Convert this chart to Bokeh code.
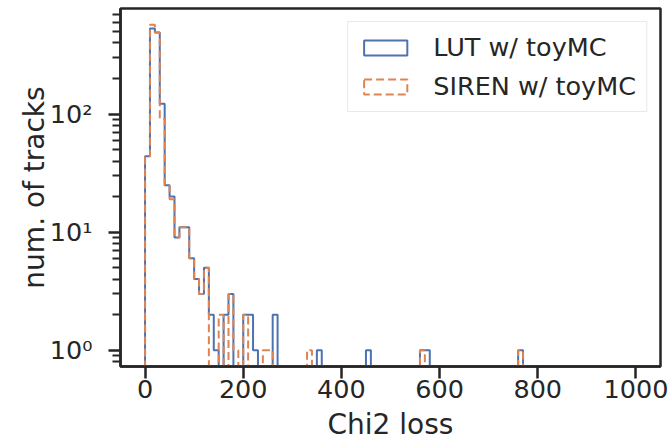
import numpy as np
from bokeh.plotting import figure
from bokeh.models import (Range1d, FixedTicker, CustomJSTickFormatter, Legend, LegendItem)
from bokeh.embed import file_html
from bokeh.resources import INLINE

# ---- data (histogram of Chi2 loss, bin width 10 over 0..1000) ----
bin_width = 10
n_bins = 100
lut_bin_index = [0, 1, 2, 3, 4, 5, 6, 7, 8, 9, 10, 11, 12, 13, 14, 16, 17, 20, 21, 22, 26, 35, 45, 56, 57, 76]
lut_counts = [44, 530, 490, 122, 25, 20, 9, 11, 11, 6, 4, 3, 5, 2, 1, 2, 3, 2, 2, 1, 2, 1, 1, 1, 1, 1]
siren_bin_index = [0, 1, 2, 3, 4, 5, 6, 7, 8, 9, 10, 11, 12, 15, 17, 18, 20, 24, 25, 33, 56, 76]
siren_counts = [44, 570, 490, 91, 25, 19, 9, 11, 11, 6, 4, 3, 5, 2, 3, 1, 2, 1, 1, 1, 1, 1]
x_ticks = [0, 200, 400, 600, 800, 1000]
y_major_ticks = [1, 10, 100]
y_minor_ticks = [0.8, 0.9, 2, 3, 4, 5, 6, 7, 8, 9, 20, 30, 40, 50, 60, 70, 80, 90,
                 200, 300, 400, 500, 600, 700]
series_labels = ["LUT w/ toyMC", "SIREN w/ toyMC"]

BLUE = "#4C72B0"
ORANGE = "#DD8452"
DARK = "#262626"
FONT = "DejaVu Sans"


def full_hist(idx, counts):
    h = np.zeros(n_bins)
    h[np.array(idx)] = counts
    return h


def step_path(h):
    edges = np.arange(n_bins + 1) * bin_width
    floor = 1e-3  # below visible range: empty bins drop to the axis
    hh = np.where(h > 0, h, floor)
    xs = np.repeat(edges, 2)
    ys = np.concatenate([[floor], np.repeat(hh, 2), [floor]])
    return xs, ys


p = figure(width=672, height=444, y_axis_type="log",
           x_range=Range1d(-50, 1050), y_range=Range1d(0.728, 783),
           output_backend="svg", toolbar_location=None,
           min_border_left=120, min_border_right=12, min_border_top=8, min_border_bottom=78)

p.background_fill_color = "white"
p.border_fill_color = "white"
p.outline_line_color = DARK
p.outline_line_width = 2.5
p.xgrid.visible = False
p.ygrid.visible = False

lx, ly = step_path(full_hist(lut_bin_index, lut_counts))
sx, sy = step_path(full_hist(siren_bin_index, siren_counts))
p.line(lx, ly, line_color=BLUE, line_width=2)
p.line(sx, sy, line_color=ORANGE, line_width=2, line_dash="8 4")

# legend handles: outlined boxes like matplotlib step-hist patches (no visible data)
nan = [np.nan]
r_lut = p.quad(left=nan, right=nan, top=nan, bottom=nan, fill_alpha=0,
               line_color=BLUE, line_width=2)
r_siren = p.quad(left=nan, right=nan, top=nan, bottom=nan, fill_alpha=0,
                 line_color=ORANGE, line_width=2, line_dash="8 4")
legend = Legend(items=[LegendItem(label=series_labels[0], renderers=[r_lut]),
                       LegendItem(label=series_labels[1], renderers=[r_siren])],
                location="top_right")
legend.margin = 13
legend.padding = 10
legend.spacing = 9
legend.glyph_width = 54
legend.glyph_height = 19
legend.label_standoff = 21
legend.label_text_font = FONT
legend.label_text_font_size = "25.5px"
legend.label_text_color = DARK
legend.border_line_color = "#d4d4d4"
legend.border_line_width = 1.5
legend.background_fill_color = "white"
legend.background_fill_alpha = 0.8
p.add_layout(legend)

# x axis
xa = p.xaxis[0]
xa.ticker = FixedTicker(ticks=x_ticks)
xa.axis_label = "Chi2 loss"
# y axis
ya = p.yaxis[0]
ya.ticker = FixedTicker(ticks=y_major_ticks, minor_ticks=y_minor_ticks)
ya.formatter = CustomJSTickFormatter(code="""
const sup = {"0":"\u2070","1":"\u00b9","2":"\u00b2","3":"\u00b3","-":"\u207b"};
const e = Math.round(Math.log10(tick));
return "10" + String(e).split("").map(c => sup[c]).join("");
""")
ya.axis_label = "num. of tracks"

for ax in (xa, ya):
    ax.axis_line_color = DARK
    ax.axis_line_width = 2.5
    ax.major_tick_line_color = DARK
    ax.major_tick_line_width = 2.5
    ax.major_tick_out = 12
    ax.major_tick_in = 0
    ax.minor_tick_line_color = DARK
    ax.minor_tick_line_width = 2
    ax.minor_tick_out = 8
    ax.minor_tick_in = 0
    ax.major_label_text_font = FONT
    ax.major_label_text_font_size = "25.5px"
    ax.major_label_text_color = DARK
    ax.axis_label_text_font = FONT
    ax.axis_label_text_font_size = "28px"
    ax.axis_label_text_font_style = "normal"
    ax.axis_label_text_color = DARK

xa.minor_tick_line_color = None
xa.major_label_standoff = 1
xa.axis_label_standoff = 7
ya.major_label_standoff = 16
ya.axis_label_standoff = -4

open("out.html", "w").write(file_html(p, INLINE))
